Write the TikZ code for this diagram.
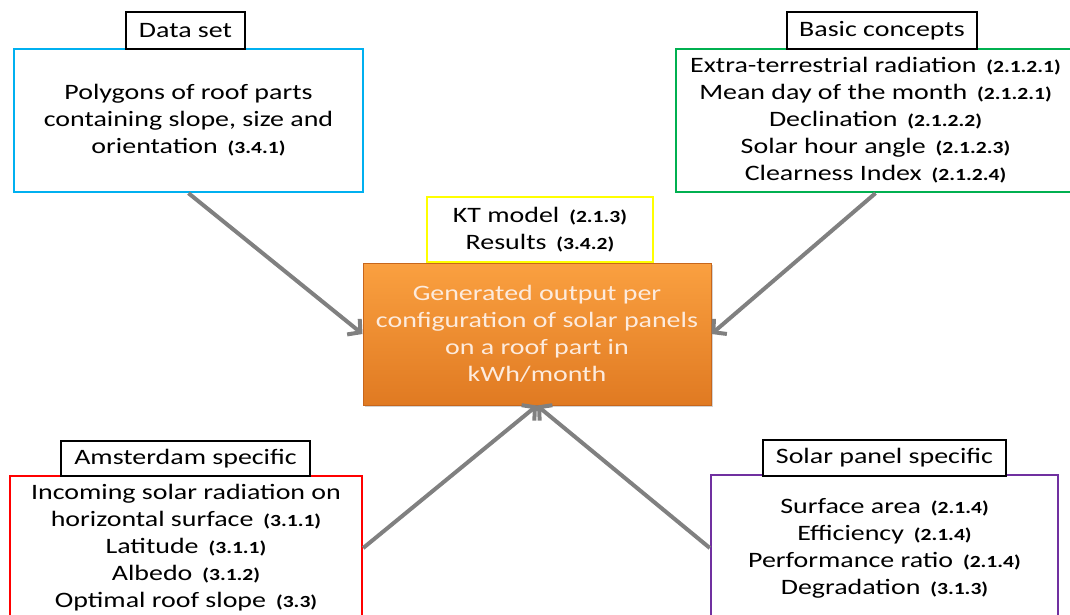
\documentclass[tikz,border=0pt]{standalone}
\usepackage{fontspec}
\setmainfont{Carlito}[FakeStretch=1.27]
\usepackage{tikz}
\usetikzlibrary{arrows.meta,shadows}

\definecolor{dsblue}{HTML}{00B0F0}
\definecolor{bcgreen}{HTML}{00B050}
\definecolor{ktyellow}{HTML}{FFFF00}
\definecolor{amred}{HTML}{FF0000}
\definecolor{sppurple}{HTML}{7030A0}
\definecolor{orgtop}{HTML}{FAA040}
\definecolor{orgbot}{HTML}{E07A22}
\definecolor{orgline}{HTML}{C7661C}
\definecolor{orgtext}{HTML}{FDEBDD}
\definecolor{feedgray}{HTML}{808080}

\newcommand{\refno}[1]{\hspace{0.45em}{\fontsize{17}{27}\selectfont\bfseries (#1)}}

\begin{document}
\begin{tikzpicture}[x=1pt,y=-1pt,
	box/.style={draw,line width=2.4pt,fill=white,align=center,inner sep=0pt,font=\fontsize{22}{27}\selectfont},
	tag/.style={draw=black,line width=2.4pt,fill=white,inner sep=0pt,font=\fontsize{22}{27}\selectfont},
	feed/.style={draw=feedgray,line width=4pt,-{Straight Barb[length=9pt,width=20pt]}}]
	\useasboundingbox (0,0) rectangle (1070,615);

	\node[box,draw=dsblue,minimum width=349pt,minimum height=143pt] (data) at (188.5, 120.5) {Polygons of roof parts\\containing slope, size and\\orientation\refno{3.4.1}};
	\node[tag,minimum width=119pt,minimum height=37pt] (datatag) at (185.5, 30.5) {Data set};

	\node[box,draw=bcgreen,minimum width=399pt,minimum height=143pt] (basic) at (875.5, 120.5) {Extra-terrestrial radiation\refno{2.1.2.1}\\Mean day of the month\refno{2.1.2.1}\\Declination\refno{2.1.2.2}\\Solar hour angle\refno{2.1.2.3}\\Clearness Index\refno{2.1.2.4}};
	\node[tag,minimum width=190pt,minimum height=37pt] (basictag) at (882, 30.5) {Basic concepts};

	\node[box,draw=ktyellow,minimum width=226pt,minimum height=65pt] (kt) at (540, 229.5) {KT model\refno{2.1.3}\\Results\refno{3.4.2}};
	\node[box,draw=orgline,line width=1pt,top color=orgtop,bottom color=orgbot,text=orgtext,minimum width=348pt,minimum height=142pt,
		drop shadow={opacity=0.35,shadow xshift=2pt,shadow yshift=-2pt}] (out) at (537, 334) {Generated output per\\configuration of solar panels\\on a roof part in\\kWh/month};

	\node[box,draw=amred,minimum width=352pt,minimum height=144pt] (ams) at (186, 548) {Incoming solar radiation on\\horizontal surface\refno{3.1.1}\\Latitude\refno{3.1.1}\\Albedo\refno{3.1.2}\\Optimal roof slope\refno{3.3}};
	\node[tag,minimum width=249pt,minimum height=35pt] (amstag) at (185.5, 458.5) {Amsterdam specific};

	\node[box,draw=sppurple,minimum width=347pt,minimum height=146pt] (solar) at (884.5, 548) {Surface area\refno{2.1.4}\\Efficiency\refno{2.1.4}\\Performance ratio\refno{2.1.4}\\Degradation\refno{3.1.3}};
	\node[tag,minimum width=243pt,minimum height=36pt] (solartag) at (884.5, 458) {Solar panel specific};

	\path (data.south) edge[feed] (out.west);
	\path (basic.south) edge[feed] (out.east);
	\path (ams.east) edge[feed] (out.south);
	\path (solar.west) edge[feed] (out.south);

\end{tikzpicture}
\end{document}
